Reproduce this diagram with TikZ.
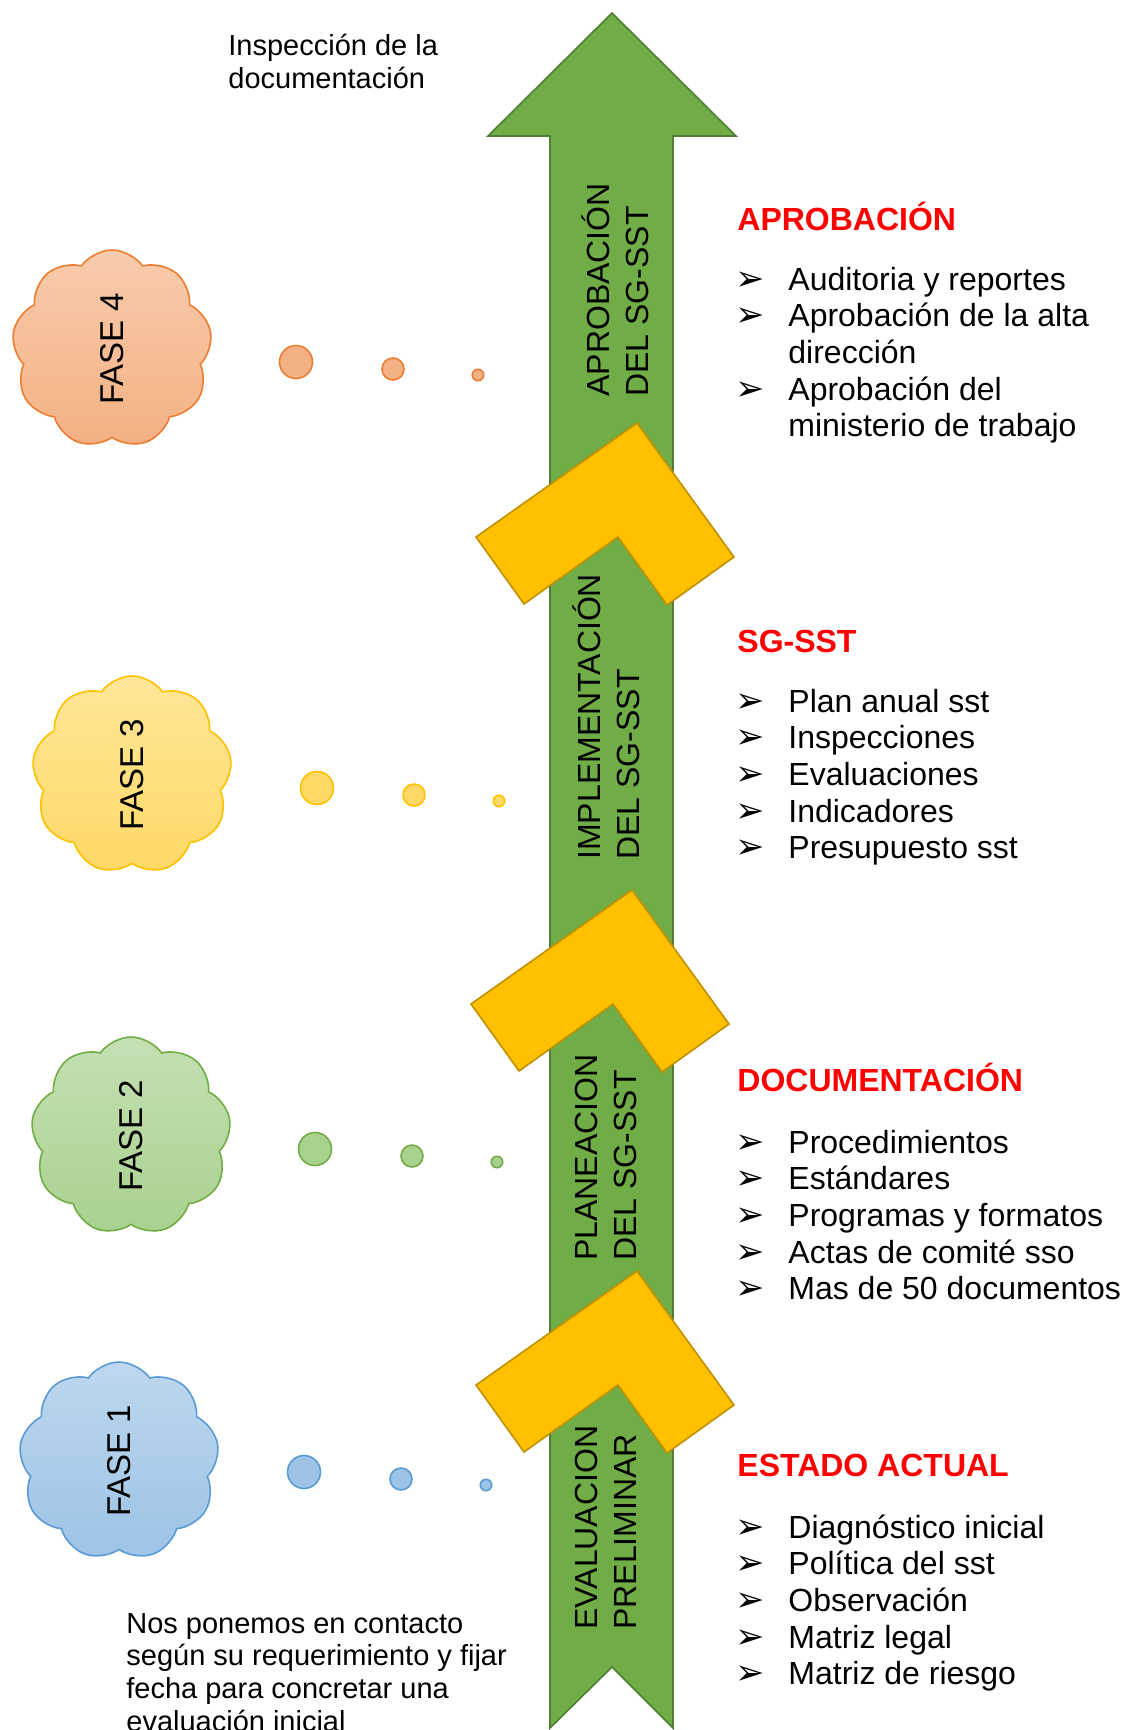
\documentclass[tikz,border=0pt]{standalone}
\usepackage{fontspec}
\setmainfont{Liberation Sans}
\newfontfamily\dejavu{DejaVu Sans}
\usetikzlibrary{shapes.symbols}
\definecolor{verde}{HTML}{70AD47}
\definecolor{verdeosc}{HTML}{507E32}
\definecolor{oro}{HTML}{FFC000}
\definecolor{oroosc}{HTML}{BF9000}
\definecolor{rojo}{HTML}{FF0000}
\definecolor{narb}{HTML}{ED7D31}\definecolor{narf}{HTML}{F4B183}\definecolor{nart}{HTML}{F8CBAD}
\definecolor{amab}{HTML}{FFC000}\definecolor{amaf}{HTML}{FFD966}\definecolor{amat}{HTML}{FFE699}
\definecolor{verb}{HTML}{70AD47}\definecolor{verf}{HTML}{A9D18E}\definecolor{vert}{HTML}{C5E0B4}
\definecolor{azub}{HTML}{5B9BD5}\definecolor{azuf}{HTML}{9DC3E6}\definecolor{azut}{HTML}{BDD7EE}
\def\chevron(#1,#2){\draw[chev,shift={(#1,#2)}] (637,423) -- (734,557) -- (667,605) -- (618,537) -- (524,604) -- (476,537) -- cycle;}

\begin{document}
\begin{tikzpicture}[x=0.5pt,y=-0.5pt,
    flecha/.style={fill=verde, draw=verdeosc, line width=0.8pt},
    chev/.style={fill=oro, draw=oroosc, line width=0.8pt, line join=miter},
    etapa/.style={rotate=90, anchor=west, align=left, inner sep=0pt, font=\fontsize{16}{19.7}\selectfont},
    nube/.style={cloud, cloud puffs=9, cloud puff arc=110, cloud ignores aspect, minimum width=100pt, minimum height=99pt, inner sep=0pt, line width=0.8pt, draw=#1b, top color=#1t, bottom color=#1f},
    fase/.style={rotate=90, inner sep=0pt, font=\fontsize{16.5}{19}\selectfont},
    punto/.style={draw=#1b, fill=#1f, line width=0.8pt},
    titulo/.style={anchor=base west, inner sep=0pt, text=rojo, font=\bfseries\fontsize{16}{19}\selectfont},
    item/.style={anchor=base west, inner sep=0pt, font=\fontsize{16}{19}\selectfont},
    bul/.style={anchor=base west, inner sep=0pt, font=\dejavu\fontsize{17.5}{17.5}\selectfont},
    nota/.style={anchor=base west, align=left, inner sep=0pt, font=\fontsize{14.5}{16.3}\selectfont}]
    %%%%% START %%%%%
    \useasboundingbox (0,0) rectangle (1123,1730);

    % flecha principal
    \draw[flecha] (612,13) -- (736,136) -- (673,136) -- (673,1728) -- (612,1667) -- (550,1728) -- (550,136) -- (488,136) -- cycle;

    \node[etapa] (e4) at (615,397) {APROBACIÓN\\DEL SG-SST};
    \node[etapa] (e3) at (606,860) {IMPLEMENTACIÓN\\DEL SG-SST};
    \node[etapa] (e2) at (606,1261) {PLANEACION\\DEL SG-SST};
    \node[etapa] (e1) at (606,1630) {EVALUACION\\PRELIMINAR};

    \chevron(0,0)
    \chevron(-5,467)
    \chevron(0,848)

    % nubes
    \node[nube=nar] (c4) at (112,349) {};
    \node[fase] (t4) at (c4) {FASE 4};
    \node[nube=ama] (c3) at (132,775) {};
    \node[fase] (t3) at (c3) {FASE 3};
    \node[nube=ver] (c2) at (131,1136) {};
    \node[fase] (t2) at (c2) {FASE 2};
    \node[nube=azu] (c1) at (119,1461) {};
    \node[fase] (t1) at (c1) {FASE 1};

    % puntos
    \foreach \x/\y/\c in {296/362/nar, 317/788/ama, 315/1149/ver, 304/1472/azu} {
        \draw[punto=\c] (\x,\y) circle (16.5);
        \draw[punto=\c] (\x+97,\y+7) circle (11);
        \draw[punto=\c] (\x+182,\y+13) circle (5.7);
    }

    % notas
    \node[nota] (n1) at (228,88) {Inspección de la\\documentación};
    \node[nota] (n2) at (126,1731) {Nos ponemos en contacto\\según su requerimiento y fijar\\fecha para concretar una\\evaluación inicial};

    % listas
    \node[titulo] (h4) at (737,230) {APROBACIÓN};
    \foreach \b/\t [count=\i from 0] in {1/Auditoria y reportes, 1/Aprobación de la alta, 0/dirección, 1/Aprobación del, 0/ministerio de trabajo} {
        \node[item] (a\i) at (788,290+36.7*\i) {\t};
        \ifnum\b=1 \node[bul] (ab\i) at (735,290+36.7*\i) {➢};\fi
    }

    \node[titulo] (h3) at (737,652) {SG-SST};
    \foreach \t [count=\i from 0] in {Plan anual sst, Inspecciones, Evaluaciones, Indicadores, Presupuesto sst} {
        \node[item] (b\i) at (788,712+36.7*\i) {\t};
        \node[bul] (bb\i) at (735,712+36.7*\i) {➢};
    }

    \node[titulo] (h2) at (737,1091) {DOCUMENTACIÓN};
    \foreach \t [count=\i from 0] in {Procedimientos, Estándares, Programas y formatos, Actas de comité sso, Mas de 50 documentos} {
        \node[item] (d\i) at (788,1153+36.7*\i) {\t};
        \node[bul] (db\i) at (735,1153+36.7*\i) {➢};
    }

    \node[titulo] (h1) at (737,1476) {ESTADO ACTUAL};
    \foreach \t [count=\i from 0] in {Diagnóstico inicial, Política del sst, Observación, Matriz legal, Matriz de riesgo} {
        \node[item] (g\i) at (788,1538+36.7*\i) {\t};
        \node[bul] (gb\i) at (735,1538+36.7*\i) {➢};
    }

    %%%%% END %%%%%
\end{tikzpicture}
\end{document}
